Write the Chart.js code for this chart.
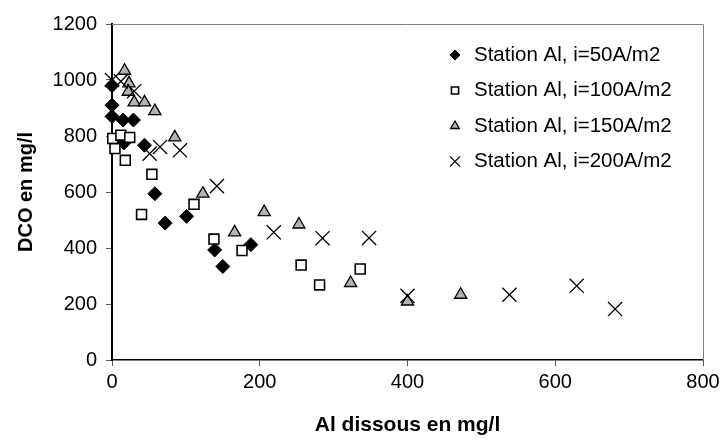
<!DOCTYPE html>
<html>
<head>
<meta charset="utf-8">
<script src="https://cdn.jsdelivr.net/npm/chart.js@4.4.0/dist/chart.umd.min.js"></script>
<style>
  html, body { margin: 0; padding: 0; background: #fff; }
  #wrap { width: 721px; height: 443px; }
</style>
</head>
<body>
<div id="wrap"><canvas id="chart" width="721" height="443"></canvas></div>
<script>
// Al dissous (mg/l) vs DCO (mg/l), one pair of arrays per current density
const al50 = [0, 0, 0, 15, 29, 16, 44, 58, 72, 101, 139, 150, 188];
const dco50 = [980, 910, 870, 857, 857, 775, 767, 594, 489, 513, 393, 334, 412];

const al100 = [1, 12, 24, 4, 18, 54, 40, 111, 138, 176, 256, 281, 336];
const dco100 = [791, 803, 795, 755, 713, 663, 520, 556, 432, 391, 339, 268, 325];

const al150 = [17, 23, 22, 30, 44, 58, 85, 123, 166, 206, 253, 323, 400, 472];
const dco150 = [1033, 988, 958, 920, 920, 889, 795, 594, 456, 528, 484, 275, 209, 233];

const al200 = [0, 12, 30, 51, 65, 92, 142, 219, 285, 348, 400, 538, 629, 681];
const dco200 = [1000, 995, 960, 737, 761, 749, 621, 456, 435, 436, 229, 233, 265, 182];

const seriesLabels = ['Station Al, i=50A/m2', 'Station Al, i=100A/m2', 'Station Al, i=150A/m2', 'Station Al, i=200A/m2'];

function toPoints(xs, ys) {
  return xs.map((x, i) => ({ x: x, y: ys[i] }));
}

Chart.defaults.font.family = '"Liberation Sans", Arial, sans-serif';
Chart.defaults.color = '#000';

// plot area frame (top and right edges, gray like the original)
const frame = {
  id: 'frame',
  beforeDatasetsDraw(chart) {
    const a = chart.chartArea;
    const ctx = chart.ctx;
    ctx.save();
    ctx.strokeStyle = '#808080';
    ctx.lineWidth = 1;
    ctx.beginPath();
    ctx.moveTo(a.left, a.top + 0.5);
    ctx.lineTo(a.right + 0.5, a.top + 0.5);
    ctx.lineTo(a.right + 0.5, a.bottom);
    ctx.stroke();
    ctx.restore();
  }
};

// legend drawn inside the plot, markers via Chart.helpers.drawPoint
const insideLegend = {
  id: 'insideLegend',
  afterDraw(chart, args, opts) {
    const ctx = chart.ctx;
    ctx.save();
    ctx.font = opts.font;
    ctx.textBaseline = 'middle';
    chart.data.datasets.forEach((ds, i) => {
      const y = opts.y + i * opts.gap;
      ctx.lineWidth = ds.pointBorderWidth;
      ctx.strokeStyle = ds.pointBorderColor;
      ctx.fillStyle = ds.pointBackgroundColor;
      Chart.helpers.drawPoint(ctx, {
        pointStyle: ds.pointStyle,
        radius: ds.pointRadius * 0.72,
        borderWidth: ds.pointBorderWidth
      }, opts.x, y);
      ctx.fillStyle = '#000';
      ctx.fillText(ds.label, opts.x + opts.textGap, y);
    });
    ctx.restore();
  }
};

const plainNumber = v => String(v);

new Chart(document.getElementById('chart'), {
  type: 'scatter',
  data: {
    datasets: [
      {
        label: seriesLabels[0],
        data: toPoints(al50, dco50),
        pointStyle: 'rectRot',
        pointRadius: 7,
        pointBackgroundColor: '#000',
        pointBorderColor: '#000',
        pointBorderWidth: 1,
        order: 4,
        clip: false
      },
      {
        label: seriesLabels[1],
        data: toPoints(al100, dco100),
        pointStyle: 'rect',
        pointRadius: 7,
        pointBackgroundColor: '#fff',
        pointBorderColor: '#000',
        pointBorderWidth: 1.6,
        order: 3,
        clip: false
      },
      {
        label: seriesLabels[2],
        data: toPoints(al150, dco150),
        pointStyle: 'triangle',
        pointRadius: 7,
        pointBackgroundColor: '#b3b3b3',
        pointBorderColor: '#000',
        pointBorderWidth: 1.3,
        order: 2,
        clip: false
      },
      {
        label: seriesLabels[3],
        data: toPoints(al200, dco200),
        pointStyle: 'crossRot',
        pointRadius: 10,
        pointBackgroundColor: '#000',
        pointBorderColor: '#000',
        pointBorderWidth: 1.3,
        order: 1,
        clip: false
      }
    ]
  },
  options: {
    responsive: false,
    animation: false,
    devicePixelRatio: 1,
    layout: {
      padding: { top: 24, right: 18, left: 0, bottom: 0 }
    },
    plugins: {
      legend: { display: false },
      tooltip: { enabled: false },
      insideLegend: {
        x: 455,
        y: 55,
        gap: 35.5,
        textGap: 19,
        font: '20.5px "Liberation Sans", Arial, sans-serif'
      }
    },
    scales: {
      x: {
        type: 'linear',
        min: 0,
        max: 800,
        ticks: { stepSize: 200, font: { size: 20 }, padding: 4, maxRotation: 0, callback: plainNumber },
        grid: { drawOnChartArea: false, drawTicks: true, tickLength: 6, color: '#555' },
        border: { color: '#000', width: 1.5 },
        title: {
          display: true,
          text: 'Al dissous en mg/l',
          font: { size: 21, weight: 'bold' },
          padding: { top: 0, bottom: 5 }
        },
        afterFit(scale) {
          scale.height = 83;
          scale.paddingLeft = 0;
          scale.paddingRight = 0;
        }
      },
      y: {
        min: 0,
        max: 1200,
        ticks: { stepSize: 200, font: { size: 20 }, padding: 9, callback: plainNumber },
        grid: { drawOnChartArea: false, drawTicks: true, tickLength: 6, color: '#555' },
        border: { color: '#000', width: 2 },
        title: {
          display: true,
          text: 'DCO en mg/l',
          font: { size: 20, weight: 'bold' },
          padding: { top: 14, bottom: 0 }
        },
        afterFit(scale) { scale.width = 112; }
      }
    }
  },
  plugins: [frame, insideLegend]
});
</script>
</body>
</html>
